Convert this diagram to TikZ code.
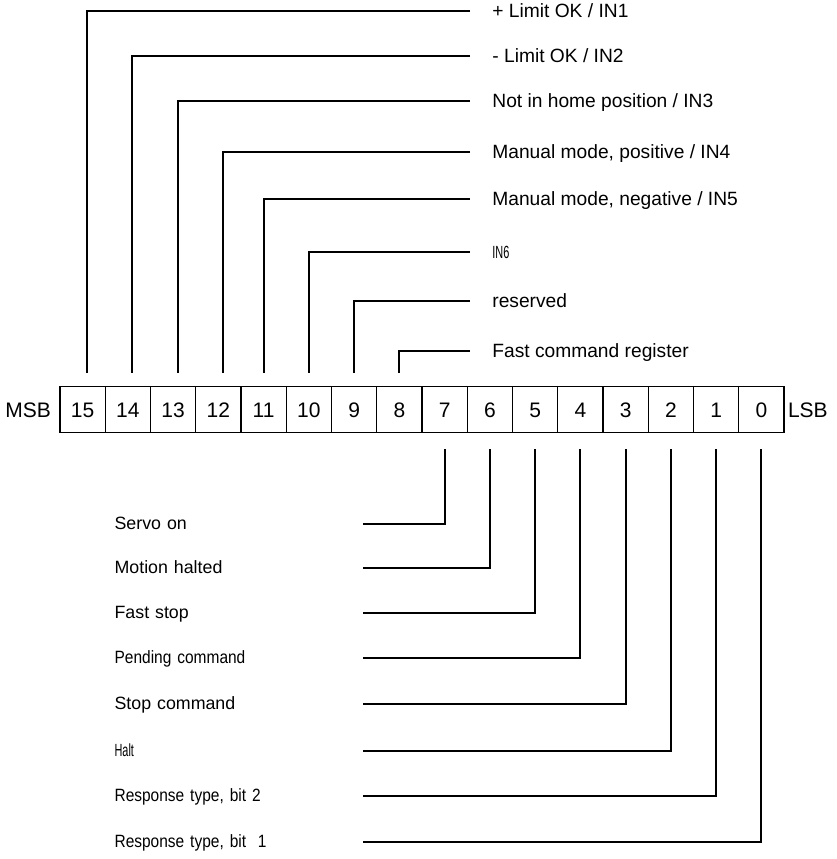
\documentclass[tikz,border=0pt]{standalone}
\usepackage{fontspec}
\setmainfont{Liberation Sans}
\newfontfamily\narrowfont[FakeStretch=0.62]{Liberation Sans}
\newfontfamily\condfont[FakeStretch=0.87]{Liberation Sans}
\usetikzlibrary{positioning}
\tikzset{
  every picture/.style={x=0.5pt,y=-0.5pt},
  cell/.style={draw,line width=0.6pt,minimum width=22.625pt,minimum height=23pt,inner sep=0pt,
    text height=7.6pt,text depth=0pt,font=\fontsize{10.5}{12}\selectfont},
  ends/.style={inner xsep=2pt,text height=7.6pt,text depth=0pt,font=\fontsize{10.5}{12}\selectfont},
  wire/.style={line width=1pt},
  toplab/.style={anchor=west,inner xsep=11pt,text height=6.4pt,text depth=0pt,font=\fontsize{9.6}{11}\selectfont},
  botlab/.style={anchor=east,inner xsep=0pt,text width=124pt,align=left,text height=5.6pt,text depth=0pt,font=\fontsize{8.9}{10}\selectfont},
  thin/.style={font=\narrowfont\fontsize{8.8}{10}\selectfont},
  cond/.style={font=\condfont\fontsize{8.9}{10}\selectfont},
}
\begin{document}
\begin{tikzpicture}
  \useasboundingbox (0,0) rectangle (837,859);
  % register cells
  \foreach \b [count=\i from 0] in {15,14,...,0}
    \node[cell] (b\b) at ({82.625+45.25*\i},409.7) {\b};
  \node[ends,anchor=east,inner xsep=4pt] (msb) at (b15.west) {MSB};
  \node[ends,anchor=west,inner xsep=1.5pt] (lsb) at (b0.east) {LSB};
  % upper byte
  \node[toplab] (t15) at (470,11) {+ Limit OK / IN1};
  \node[toplab] (t14) at (470,56) {- Limit OK / IN2};
  \node[toplab] (t13) at (470,101) {Not in home position / IN3};
  \node[toplab] (t12) at (470,152) {Manual mode, positive / IN4};
  \node[toplab] (t11) at (470,199) {Manual mode, negative / IN5};
  \node[toplab,thin] (t10) at (470,252) {IN6};
  \node[toplab] (t9) at (470,301) {reserved};
  \node[toplab] (t8) at (470,351) {Fast command register};
  % lower byte
  \node[botlab] (s7) at (363,524) {Servo on};
  \node[botlab] (s6) at (363,568) {Motion halted};
  \node[botlab] (s5) at (363,613) {Fast stop};
  \node[botlab,cond] (s4) at (363,658) {Pending command};
  \node[botlab] (s3) at (363,704) {Stop command};
  \node[botlab,thin] (s2) at (363,751) {Halt};
  \node[botlab,cond] (s1) at (363,796) {Response type, bit 2};
  \node[botlab,cond] (s0) at (363,842) {Response type, bit~~1};
  % leads
  \draw[wire,shorten >=6.7pt] (t15.west) -| ([xshift=2.25pt]b15.north);
  \draw[wire,shorten >=6.7pt] (t14.west) -| ([xshift=2.25pt]b14.north);
  \draw[wire,shorten >=6.7pt] (t13.west) -| ([xshift=2.25pt]b13.north);
  \draw[wire,shorten >=6.7pt] (t12.west) -| ([xshift=2.25pt]b12.north);
  \draw[wire,shorten >=6.7pt] (t11.west) -| (b11.north);
  \draw[wire,shorten >=6.7pt] (t10.west) -| (b10.north);
  \draw[wire,shorten >=6.7pt] (t9.west) -| (b9.north);
  \draw[wire,shorten >=6.7pt] (t8.west) -| (b8.north);
  \draw[wire,shorten >=7.8pt] (s7.east) -| (b7.south);
  \draw[wire,shorten >=7.8pt] (s6.east) -| (b6.south);
  \draw[wire,shorten >=7.8pt] (s5.east) -| (b5.south);
  \draw[wire,shorten >=7.8pt] (s4.east) -| (b4.south);
  \draw[wire,shorten >=7.8pt] (s3.east) -| (b3.south);
  \draw[wire,shorten >=7.8pt] (s2.east) -| (b2.south);
  \draw[wire,shorten >=7.8pt] (s1.east) -| (b1.south);
  \draw[wire,shorten >=7.8pt] (s0.east) -| (b0.south);
\end{tikzpicture}
\end{document}
